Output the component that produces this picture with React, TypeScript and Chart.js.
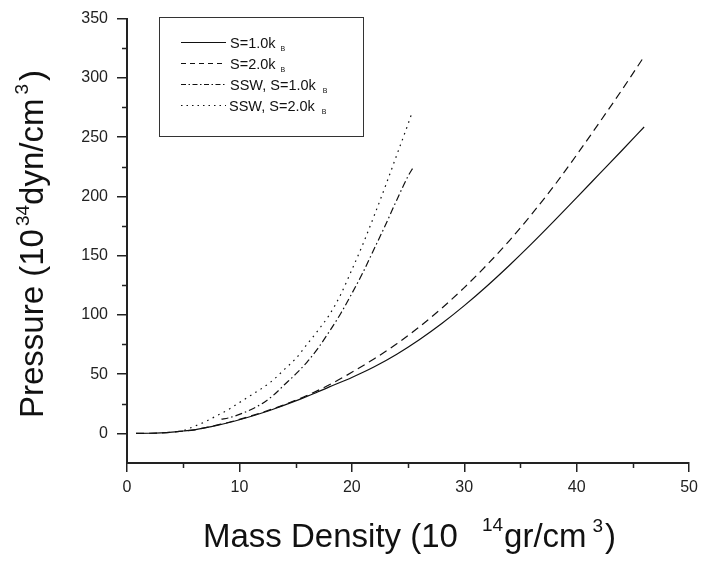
import React, { useEffect, useRef } from "react";
import { Chart, registerables } from "chart.js";

Chart.register(...registerables);

// ---- data ----
const X_TICKS = [0, 10, 20, 30, 40, 50];
const X_MINOR = [5, 15, 25, 35, 45];
const Y_TICKS = [0, 50, 100, 150, 200, 250, 300, 350];
const Y_MINOR = [25, 75, 125, 175, 225, 275, 325];

const SERIES_LABELS = ["S=1.0k", "S=2.0k", "SSW, S=1.0k", "SSW, S=2.0k"];
const SERIES_SUB = ["B", "B", "B", "B"];

const S1_RHO = [0.8, 2, 3, 4, 5, 6, 7, 8, 9, 10, 11, 12, 13, 14, 15, 16, 17, 18, 20, 22, 24, 26, 28, 30, 32, 34, 36, 38, 40, 42, 44, 46];
const S1_P = [0, 0.1, 0.4, 1, 2, 3, 4.8, 6.8, 9, 11.5, 14.2, 17.2, 20.4, 23.8, 27.4, 31.2, 35.1, 39.2, 47.2, 56.2, 66.8, 79, 92.7, 107.8, 124.2, 141.7, 160.1, 179.3, 198.9, 218.7, 238.5, 258.5];

const S2_RHO = [0.8, 2, 3, 4, 5, 6, 7, 8, 9, 10, 11, 12, 13, 14, 16, 18, 20, 22, 24, 26, 28, 30, 32, 34, 36, 38, 40, 42, 44, 46];
const S2_P = [0, 0.1, 0.4, 1, 2, 3, 4.8, 7, 9.2, 11.8, 14.6, 17.6, 20.8, 24.2, 31.9, 41, 51.5, 63, 75.6, 89.8, 105.6, 123, 142, 162.5, 185, 209, 235, 262, 289.5, 318];

const SSW1_RHO = [8.4, 9, 10, 11, 12, 13, 14, 15, 16, 17, 18, 19, 20, 21, 22, 23, 24, 25, 25.5];
const SSW1_P = [12, 13, 16, 20, 25, 32, 41, 50, 60, 72, 86, 101, 118, 136, 156, 176, 197, 217, 225];

const SSW2_RHO = [5.1, 6, 7, 8, 9, 10, 11, 12, 13, 14, 15, 16, 17, 18, 19, 20, 21, 22, 23, 24, 25, 25.4];
const SSW2_P = [2.5, 6, 10, 15, 20, 26, 32, 38, 45, 54, 63, 75, 87, 100, 117, 138, 160, 184, 209, 235, 261, 272];

const FONT = '"Liberation Sans", Arial, Helvetica, sans-serif';
const INK = "#111";
const DASHES: number[][] = [[], [8, 5], [7, 3, 1.5, 3], [1.6, 4.6]];
const LEGEND_DASHES: number[][] = [[], [5, 4], [5, 2.5, 1.5, 2.5], [1.5, 4]];

const toPts = (xs: number[], ys: number[]) => xs.map((x, i) => ({ x, y: ys[i] }));

const decorPlugin = {
  id: "decor",
  afterDraw(chart: any) {
    const ctx = chart.ctx as CanvasRenderingContext2D;
    const xs = chart.scales.x;
    const ys = chart.scales.y;
    const area = chart.chartArea;
    ctx.save();
    // minor ticks
    ctx.strokeStyle = "#222";
    ctx.lineWidth = 1.5;
    ctx.setLineDash([]);
    ctx.beginPath();
    X_MINOR.forEach((v) => {
      const px = Math.round(xs.getPixelForValue(v)) + 0.5;
      ctx.moveTo(px, area.bottom);
      ctx.lineTo(px, area.bottom + 5);
    });
    Y_MINOR.forEach((v) => {
      const py = Math.round(ys.getPixelForValue(v)) + 0.5;
      ctx.moveTo(area.left, py);
      ctx.lineTo(area.left - 5, py);
    });
    ctx.stroke();

    // x title
    ctx.fillStyle = INK;
    ctx.textBaseline = "alphabetic";
    ctx.textAlign = "left";
    const big = `33px ${FONT}`;
    const sup = `19px ${FONT}`;
    let x = 203;
    const base = 547;
    ctx.font = big;
    const t1 = "Mass Density (10";
    ctx.fillText(t1, x, base);
    x += ctx.measureText(t1).width + 24;
    ctx.font = sup;
    ctx.fillText("14", x, base - 16);
    x += ctx.measureText("14").width + 1;
    ctx.font = big;
    ctx.fillText("gr/cm", x, base);
    x += ctx.measureText("gr/cm").width + 6;
    ctx.font = sup;
    ctx.fillText("3", x, base - 15);
    x += ctx.measureText("3").width + 2;
    ctx.font = big;
    ctx.fillText(")", x, base);

    // y title (rotated)
    ctx.save();
    ctx.translate(43, 418);
    ctx.rotate(-Math.PI / 2);
    let p = 0;
    ctx.font = big;
    const y1 = "Pressure (10";
    ctx.fillText(y1, p, 0);
    p += ctx.measureText(y1).width + 3;
    ctx.font = sup;
    ctx.fillText("34", p, -14);
    p += ctx.measureText("34").width;
    ctx.font = big;
    ctx.fillText("dyn/cm", p, 0);
    p += ctx.measureText("dyn/cm").width + 4;
    ctx.font = sup;
    ctx.fillText("3", p, -15);
    p += ctx.measureText("3").width + 3;
    ctx.font = big;
    ctx.fillText(")", p, 0);
    ctx.restore();

    // legend
    ctx.strokeStyle = "#333";
    ctx.lineWidth = 1;
    ctx.setLineDash([]);
    ctx.strokeRect(159.5, 17.5, 204, 119);
    const rowY = [42.5, 63.5, 84.5, 105.5];
    const subGap = [5, 5, 7, 7];
    SERIES_LABELS.forEach((lab, i) => {
      const cy = rowY[i];
      ctx.strokeStyle = INK;
      ctx.lineWidth = 1.2;
      ctx.setLineDash(LEGEND_DASHES[i]);
      ctx.beginPath();
      ctx.moveTo(181, cy);
      ctx.lineTo(226, cy);
      ctx.stroke();
      ctx.setLineDash([]);
      ctx.font = `14.5px ${FONT}`;
      ctx.fillStyle = INK;
      const tx = i === 3 ? 229 : 230;
      ctx.fillText(lab, tx, cy + 5.5);
      const w = ctx.measureText(lab).width;
      ctx.font = `7px ${FONT}`;
      ctx.fillText(SERIES_SUB[i], tx + w + subGap[i], cy + 8.5);
    });
    ctx.restore();
  },
};

export default function App() {
  const ref = useRef<HTMLCanvasElement | null>(null);
  useEffect(() => {
    if (!ref.current) return;
    const mk = (xs: number[], ys: number[], i: number) => ({
      label: SERIES_LABELS[i],
      data: toPts(xs, ys),
      showLine: true,
      borderColor: INK,
      backgroundColor: INK,
      borderWidth: 1.2,
      borderDash: DASHES[i],
      pointRadius: 0,
      cubicInterpolationMode: "monotone" as const,
      fill: false,
    });
    const chart = new Chart(ref.current, {
      type: "scatter",
      data: {
        datasets: [
          mk(S1_RHO, S1_P, 0),
          mk(S2_RHO, S2_P, 1),
          mk(SSW1_RHO, SSW1_P, 2),
          mk(SSW2_RHO, SSW2_P, 3),
        ],
      },
      options: {
        responsive: false,
        animation: false,
        devicePixelRatio: 1,
        layout: { padding: { top: 13, right: 10.5, left: 0, bottom: 0 } },
        plugins: { legend: { display: false }, tooltip: { enabled: false } },
        scales: {
          x: {
            type: "linear",
            min: 0,
            max: 50,
            afterBuildTicks: (s: any) => {
              s.ticks = X_TICKS.map((v) => ({ value: v }));
            },
            afterFit: (s: any) => {
              s.height = 98;
            },
            grid: { display: true, drawOnChartArea: false, drawTicks: true, tickLength: 9, color: "#222", lineWidth: 1.5 },
            border: { display: true, color: "#222", width: 2 },
            ticks: { color: "#222", font: { family: FONT, size: 16 }, padding: 6, maxRotation: 0, autoSkip: false },
          },
          y: {
            type: "linear",
            min: -25,
            max: 350,
            afterBuildTicks: (s: any) => {
              s.ticks = Y_TICKS.map((v) => ({ value: v }));
            },
            afterFit: (s: any) => {
              s.width = 127;
            },
            grid: { display: true, drawOnChartArea: false, drawTicks: true, tickLength: 10, color: "#222", lineWidth: 1.5 },
            border: { display: true, color: "#222", width: 2 },
            ticks: { color: "#222", font: { family: FONT, size: 16 }, padding: 9, autoSkip: false },
          },
        },
      },
      plugins: [decorPlugin],
    });
    return () => chart.destroy();
  }, []);
  return (
    <div style={{ position: "absolute", left: 0, top: 0, width: 704, height: 561, background: "#fff" }}>
      <canvas ref={ref} width={704} height={561} style={{ display: "block", width: 704, height: 561 }} />
    </div>
  );
}
